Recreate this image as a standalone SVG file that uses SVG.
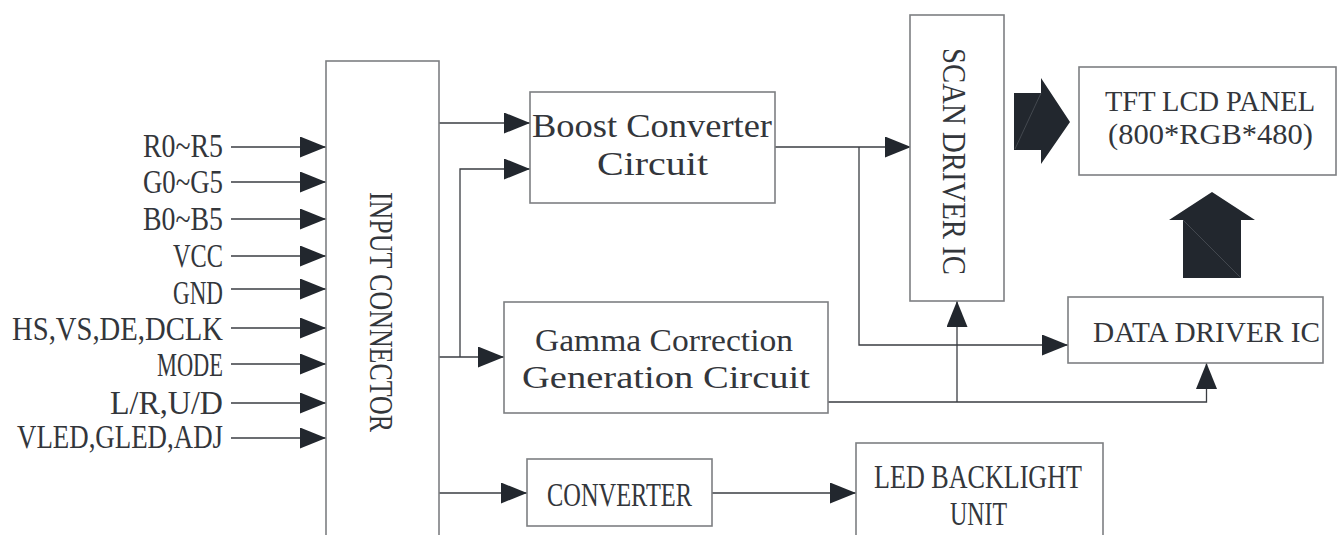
<svg xmlns="http://www.w3.org/2000/svg" width="1338" height="535" viewBox="0 0 1338 535">
<defs>
<style>
.box{fill:#fff;stroke:#7d7f82;stroke-width:1.6}
.ln{fill:none;stroke:#3a3d42;stroke-width:1.3}
.t{font-family:"Liberation Serif","Times New Roman",serif;font-size:33px;fill:#33363b}
.s32{font-size:32px}
.s30{font-size:30px}
.blk{fill:#22272e}
</style>
<marker id="ah" markerUnits="userSpaceOnUse" markerWidth="26" markerHeight="21" refX="26" refY="10.5" orient="auto" viewBox="0 0 26 21">
<path d="M0,0 L26,10.5 L0,21 Z" fill="#22272e"/>
</marker>
</defs>
<rect width="1338" height="535" fill="#fff"/>

<g id="connectors">
<line class="ln" x1="231" y1="147" x2="326" y2="147" marker-end="url(#ah)"/>
<line class="ln" x1="231" y1="182" x2="326" y2="182" marker-end="url(#ah)"/>
<line class="ln" x1="231" y1="219" x2="326" y2="219" marker-end="url(#ah)"/>
<line class="ln" x1="231" y1="256" x2="326" y2="256" marker-end="url(#ah)"/>
<line class="ln" x1="231" y1="289" x2="326" y2="289" marker-end="url(#ah)"/>
<line class="ln" x1="231" y1="328" x2="326" y2="328" marker-end="url(#ah)"/>
<line class="ln" x1="231" y1="364" x2="326" y2="364" marker-end="url(#ah)"/>
<line class="ln" x1="231" y1="403" x2="326" y2="403" marker-end="url(#ah)"/>
<line class="ln" x1="231" y1="438" x2="326" y2="438" marker-end="url(#ah)"/>
<line class="ln" x1="439" y1="123" x2="530" y2="123" marker-end="url(#ah)"/>
<polyline class="ln" points="439,357 504,357" marker-end="url(#ah)"/>
<polyline class="ln" points="460,357 460,169 530,169" marker-end="url(#ah)"/>
<polyline class="ln" points="775,147 911,147" marker-end="url(#ah)"/>
<polyline class="ln" points="859,147 859,345 1068,345" marker-end="url(#ah)"/>
<polyline class="ln" points="828,402 1206.5,402 1206.5,363" marker-end="url(#ah)"/>
<polyline class="ln" points="957,402 957,301" marker-end="url(#ah)"/>
<line class="ln" x1="439" y1="493" x2="527" y2="493" marker-end="url(#ah)"/>
<line class="ln" x1="712" y1="493" x2="856" y2="493" marker-end="url(#ah)"/>
</g>

<g id="input-labels">
<text class="t" x="143" y="157" textLength="80" lengthAdjust="spacingAndGlyphs">R0~R5</text>
<text class="t" x="143" y="193" textLength="80" lengthAdjust="spacingAndGlyphs">G0~G5</text>
<text class="t" x="143" y="230" textLength="80" lengthAdjust="spacingAndGlyphs">B0~B5</text>
<text class="t" x="173" y="267" textLength="50" lengthAdjust="spacingAndGlyphs">VCC</text>
<text class="t" x="173" y="304" textLength="50" lengthAdjust="spacingAndGlyphs">GND</text>
<text class="t" x="12" y="340" textLength="211" lengthAdjust="spacingAndGlyphs">HS,VS,DE,DCLK</text>
<text class="t" x="157" y="376" textLength="66" lengthAdjust="spacingAndGlyphs">MODE</text>
<text class="t" x="110" y="414" textLength="113" lengthAdjust="spacingAndGlyphs">L/R,U/D</text>
<text class="t" x="17" y="448" textLength="206" lengthAdjust="spacingAndGlyphs">VLED,GLED,ADJ</text>
</g>

<g id="input-connector">
<rect class="box" x="326" y="61" width="113" height="490"/>
<text class="t" transform="translate(370,192) rotate(90)" x="0" y="0" textLength="240" lengthAdjust="spacingAndGlyphs">INPUT CONNECTOR</text>
</g>

<g id="boost-converter">
<rect class="box" x="530" y="92" width="245" height="111"/>
<text class="t" x="532" y="137" textLength="240" lengthAdjust="spacingAndGlyphs">Boost Converter</text>
<text class="t" x="597" y="175" textLength="111" lengthAdjust="spacingAndGlyphs">Circuit</text>
</g>

<g id="gamma-correction">
<rect class="box" x="504" y="302" width="324" height="111"/>
<text class="t s32" x="535" y="351" textLength="258" lengthAdjust="spacingAndGlyphs">Gamma Correction</text>
<text class="t s32" x="522" y="388" textLength="288" lengthAdjust="spacingAndGlyphs">Generation Circuit</text>
</g>

<g id="scan-driver">
<rect class="box" x="910" y="15" width="94" height="286"/>
<text class="t" transform="translate(943,48) rotate(90)" x="0" y="0" textLength="227" lengthAdjust="spacingAndGlyphs">SCAN DRIVER IC</text>
</g>

<g id="tft-panel">
<rect class="box" x="1079" y="67" width="257" height="108"/>
<text class="t s30" x="1105" y="111" textLength="210" lengthAdjust="spacingAndGlyphs">TFT LCD PANEL</text>
<text class="t s30" x="1108" y="144" textLength="205" lengthAdjust="spacingAndGlyphs">(800*RGB*480)</text>
</g>

<g id="data-driver">
<rect class="box" x="1068" y="297" width="255" height="66"/>
<text class="t s30" x="1093" y="342" textLength="227" lengthAdjust="spacingAndGlyphs">DATA DRIVER IC</text>
</g>

<g id="scan-to-panel-arrow">
<polygon class="blk" points="1014,93 1041,93 1041,78 1070,122 1041,164 1041,150 1014,150"/>
<line x1="1041" y1="93" x2="1015" y2="149" stroke="#5a5f66" stroke-width="0.6"/>
</g>

<g id="data-to-panel-arrow">
<polygon class="blk" points="1183,278 1183,220 1169,220 1212,192 1255,220 1241,220 1241,278"/>
<line x1="1183" y1="220" x2="1241" y2="278" stroke="#5a5f66" stroke-width="0.6"/>
</g>

<g id="converter">
<rect class="box" x="527" y="459" width="185" height="67"/>
<text class="t" x="547" y="506" textLength="145" lengthAdjust="spacingAndGlyphs">CONVERTER</text>
</g>

<g id="led-backlight">
<rect class="box" x="856" y="443" width="247" height="110"/>
<text class="t" x="874" y="488" textLength="208" lengthAdjust="spacingAndGlyphs">LED BACKLIGHT</text>
<text class="t" x="950" y="525" textLength="57" lengthAdjust="spacingAndGlyphs">UNIT</text>
</g>
</svg>
